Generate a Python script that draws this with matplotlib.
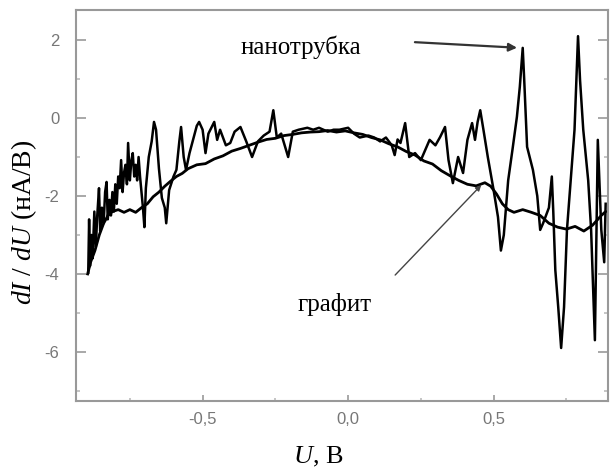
import numpy as np
import matplotlib
matplotlib.use("Agg")
import matplotlib.pyplot as plt
from matplotlib.ticker import FuncFormatter, MultipleLocator

plt.rcParams['axes.unicode_minus'] = False
plt.rcParams['mathtext.fontset'] = 'custom'
plt.rcParams['mathtext.rm'] = 'Liberation Serif'
plt.rcParams['mathtext.it'] = 'Liberation Serif:italic'

# nanotube dI/dU curve (noisy)
nanotube_u = [-0.893, -0.89, -0.887, -0.882, -0.878, -0.872, -0.867, -0.862, -0.856, -0.852,
              -0.846, -0.84, -0.835, -0.83, -0.826, -0.82, -0.815, -0.81, -0.805, -0.80,
              -0.795, -0.79, -0.785, -0.78, -0.775, -0.77, -0.765, -0.76, -0.756, -0.75,
              -0.745, -0.74, -0.735, -0.73, -0.725, -0.72, -0.715, -0.71, -0.705, -0.70,
              -0.695, -0.685, -0.675, -0.667, -0.66, -0.65, -0.64,
              -0.63, -0.625, -0.615, -0.60, -0.59, -0.58, -0.574, -0.565, -0.557, -0.545,
              -0.533, -0.52, -0.512, -0.50, -0.49, -0.48, -0.46, -0.45, -0.44, -0.42,
              -0.405, -0.39, -0.37, -0.35, -0.33, -0.31, -0.29, -0.27, -0.257, -0.245,
              -0.23, -0.206, -0.19, -0.17, -0.14, -0.12, -0.10, -0.07, -0.05, -0.03,
              0.0, 0.02, 0.04, 0.07, 0.09, 0.11, 0.13, 0.15, 0.16, 0.17,
              0.18, 0.196, 0.21, 0.23, 0.25, 0.28, 0.30, 0.316, 0.333, 0.345,
              0.36, 0.37, 0.378, 0.395, 0.41, 0.426, 0.436, 0.445, 0.454, 0.465,
              0.48, 0.50, 0.515, 0.525, 0.535, 0.55, 0.565, 0.58, 0.59, 0.60,
              0.605, 0.615, 0.635, 0.65, 0.66, 0.67, 0.69, 0.70, 0.705, 0.712,
              0.722, 0.732, 0.742, 0.752, 0.765, 0.778, 0.79, 0.797, 0.808, 0.825,
              0.835, 0.848, 0.858, 0.87, 0.88, 0.885]
nanotube_didu = [-3.97, -2.6, -3.8, -3.0, -3.6, -2.4, -3.3, -2.5, -1.8, -2.9,
                 -2.3, -2.7, -1.9, -1.64, -2.6, -2.1, -2.5, -1.9, -2.4, -1.7,
                 -2.2, -1.5, -1.8, -1.08, -1.9, -1.4, -1.2, -1.7, -0.64, -1.6,
                 -1.1, -0.9, -1.5, -1.2, -1.6, -1.0, -1.5, -1.9, -2.3, -2.8,
                 -1.8, -1.0, -0.6, -0.1, -0.3, -1.3, -2.05,
                 -2.3, -2.7, -1.85, -1.5, -1.33, -0.6, -0.23, -1.0, -1.33, -0.9,
                 -0.56, -0.2, -0.1, -0.3, -0.9, -0.4, -0.1, -0.56, -0.3, -0.7,
                 -0.64, -0.35, -0.23, -0.6, -1.0, -0.6, -0.45, -0.35, 0.2, -0.5,
                 -0.4, -1.0, -0.35, -0.3, -0.25, -0.3, -0.25, -0.35, -0.3, -0.3,
                 -0.25, -0.4, -0.5, -0.45, -0.5, -0.6, -0.5, -0.7, -0.95, -0.55,
                 -0.64, -0.13, -1.0, -0.9, -1.08, -0.56, -0.7, -0.49, -0.23, -1.08,
                 -1.67, -1.3, -1.0, -1.41, -0.56, -0.13, -0.56, -0.1, 0.2, -0.3,
                 -1.0, -1.85, -2.54, -3.4, -3.0, -1.6, -0.8, 0.03, 0.8, 1.8,
                 1.0, -0.74, -1.33, -2.0, -2.87, -2.7, -2.3, -1.5, -2.4, -3.9,
                 -4.85, -5.9, -4.85, -2.87, -1.6, -0.3, 2.1, 0.97, -0.3, -1.6,
                 -2.87, -5.7, -0.56, -2.87, -3.7, -2.2]

# graphite dI/dU curve (smoother)
graphite_u = [-0.895, -0.885, -0.87, -0.855, -0.84, -0.825, -0.81, -0.79, -0.77, -0.75,
              -0.73, -0.71, -0.69, -0.67, -0.65, -0.63, -0.61, -0.59, -0.57, -0.55,
              -0.52, -0.49, -0.46, -0.43, -0.40, -0.37, -0.34, -0.31, -0.28, -0.25,
              -0.22, -0.19, -0.16, -0.13, -0.10, -0.07, -0.04, -0.01, 0.02, 0.05,
              0.08, 0.11, 0.14, 0.17, 0.20, 0.23, 0.26, 0.29, 0.32, 0.35,
              0.38, 0.41, 0.44, 0.47, 0.49, 0.51, 0.53, 0.55, 0.57, 0.60,
              0.63, 0.66, 0.69, 0.72, 0.75, 0.78, 0.81, 0.84, 0.87, 0.885]
graphite_didu = [-4.0, -3.7, -3.4, -3.0, -2.7, -2.5, -2.4, -2.35, -2.42, -2.35,
                 -2.42, -2.3, -2.2, -2.02, -1.9, -1.75, -1.62, -1.5, -1.42, -1.3,
                 -1.2, -1.17, -1.05, -0.97, -0.85, -0.78, -0.7, -0.62, -0.55, -0.52,
                 -0.45, -0.42, -0.38, -0.36, -0.35, -0.32, -0.36, -0.33, -0.38, -0.42,
                 -0.5, -0.56, -0.66, -0.74, -0.86, -0.95, -1.1, -1.18, -1.35, -1.48,
                 -1.6, -1.7, -1.74, -1.66, -1.75, -1.95, -2.2, -2.35, -2.42, -2.35,
                 -2.42, -2.5, -2.7, -2.8, -2.85, -2.78, -2.9, -2.75, -2.5, -2.4]

fig = plt.figure(figsize=(6.15, 4.75), dpi=100)
ax = fig.add_axes([0.1236, 0.1558, 0.865, 0.823])

ax.plot(graphite_u, graphite_didu, color='black', lw=2.0)
ax.plot(nanotube_u, nanotube_didu, color='black', lw=1.8)

ax.set_xlim(-0.935, 0.893)
ax.set_ylim(-7.26, 2.77)

ax.xaxis.set_major_locator(MultipleLocator(0.5))
ax.xaxis.set_minor_locator(MultipleLocator(0.25))
ax.yaxis.set_major_locator(MultipleLocator(2))
ax.yaxis.set_minor_locator(MultipleLocator(1))
ax.xaxis.set_major_formatter(FuncFormatter(lambda v, p: ('%.1f' % v).replace('.', ',')))
ax.yaxis.set_major_formatter(FuncFormatter(lambda v, p: '%d' % v))

for s in ax.spines.values():
    s.set_color('#999999')
    s.set_linewidth(1.5)

ax.tick_params(axis='y', which='major', direction='in', length=7, width=1.2,
               color='#999999', labelcolor='#777777', labelsize=12, pad=12,
               right=True)
ax.tick_params(axis='y', which='minor', direction='in', length=3, width=1.2,
               color='#bbbbbb', right=True)
ax.tick_params(axis='x', which='major', direction='in', length=4, width=1.2,
               color='#999999', labelcolor='#777777', labelsize=12, pad=8)
ax.tick_params(axis='x', which='minor', direction='in', length=2, width=1.2,
               color='#bbbbbb')
for lbl in ax.get_xticklabels() + ax.get_yticklabels():
    lbl.set_family('Liberation Sans')

ax.set_xlabel(r'$U$, В', family='Liberation Serif', fontsize=19)
ax.xaxis.set_label_coords(0.455, -0.112)
ax.set_ylabel(r'$dI\ /\ dU$ (нА/В)', family='Liberation Serif', fontsize=20)
ax.yaxis.set_label_coords(-0.07, 0.458)

ax.text(-0.371, 1.82, 'нанотрубка', family='Liberation Serif', fontsize=18,
        ha='left', va='center')
ax.text(-0.175, -4.79, 'графит', family='Liberation Serif', fontsize=18,
        ha='left', va='center')

ax.annotate('', xy=(0.59, 1.8), xytext=(0.22, 1.95),
            arrowprops=dict(arrowstyle='-|>', color='#333333', lw=1.6,
                            mutation_scale=12))
ax.annotate('', xy=(0.464, -1.67), xytext=(0.155, -4.08),
            arrowprops=dict(arrowstyle='-|>', color='#444444', lw=1.0,
                            mutation_scale=8))

fig.savefig('out.png', dpi=100)
